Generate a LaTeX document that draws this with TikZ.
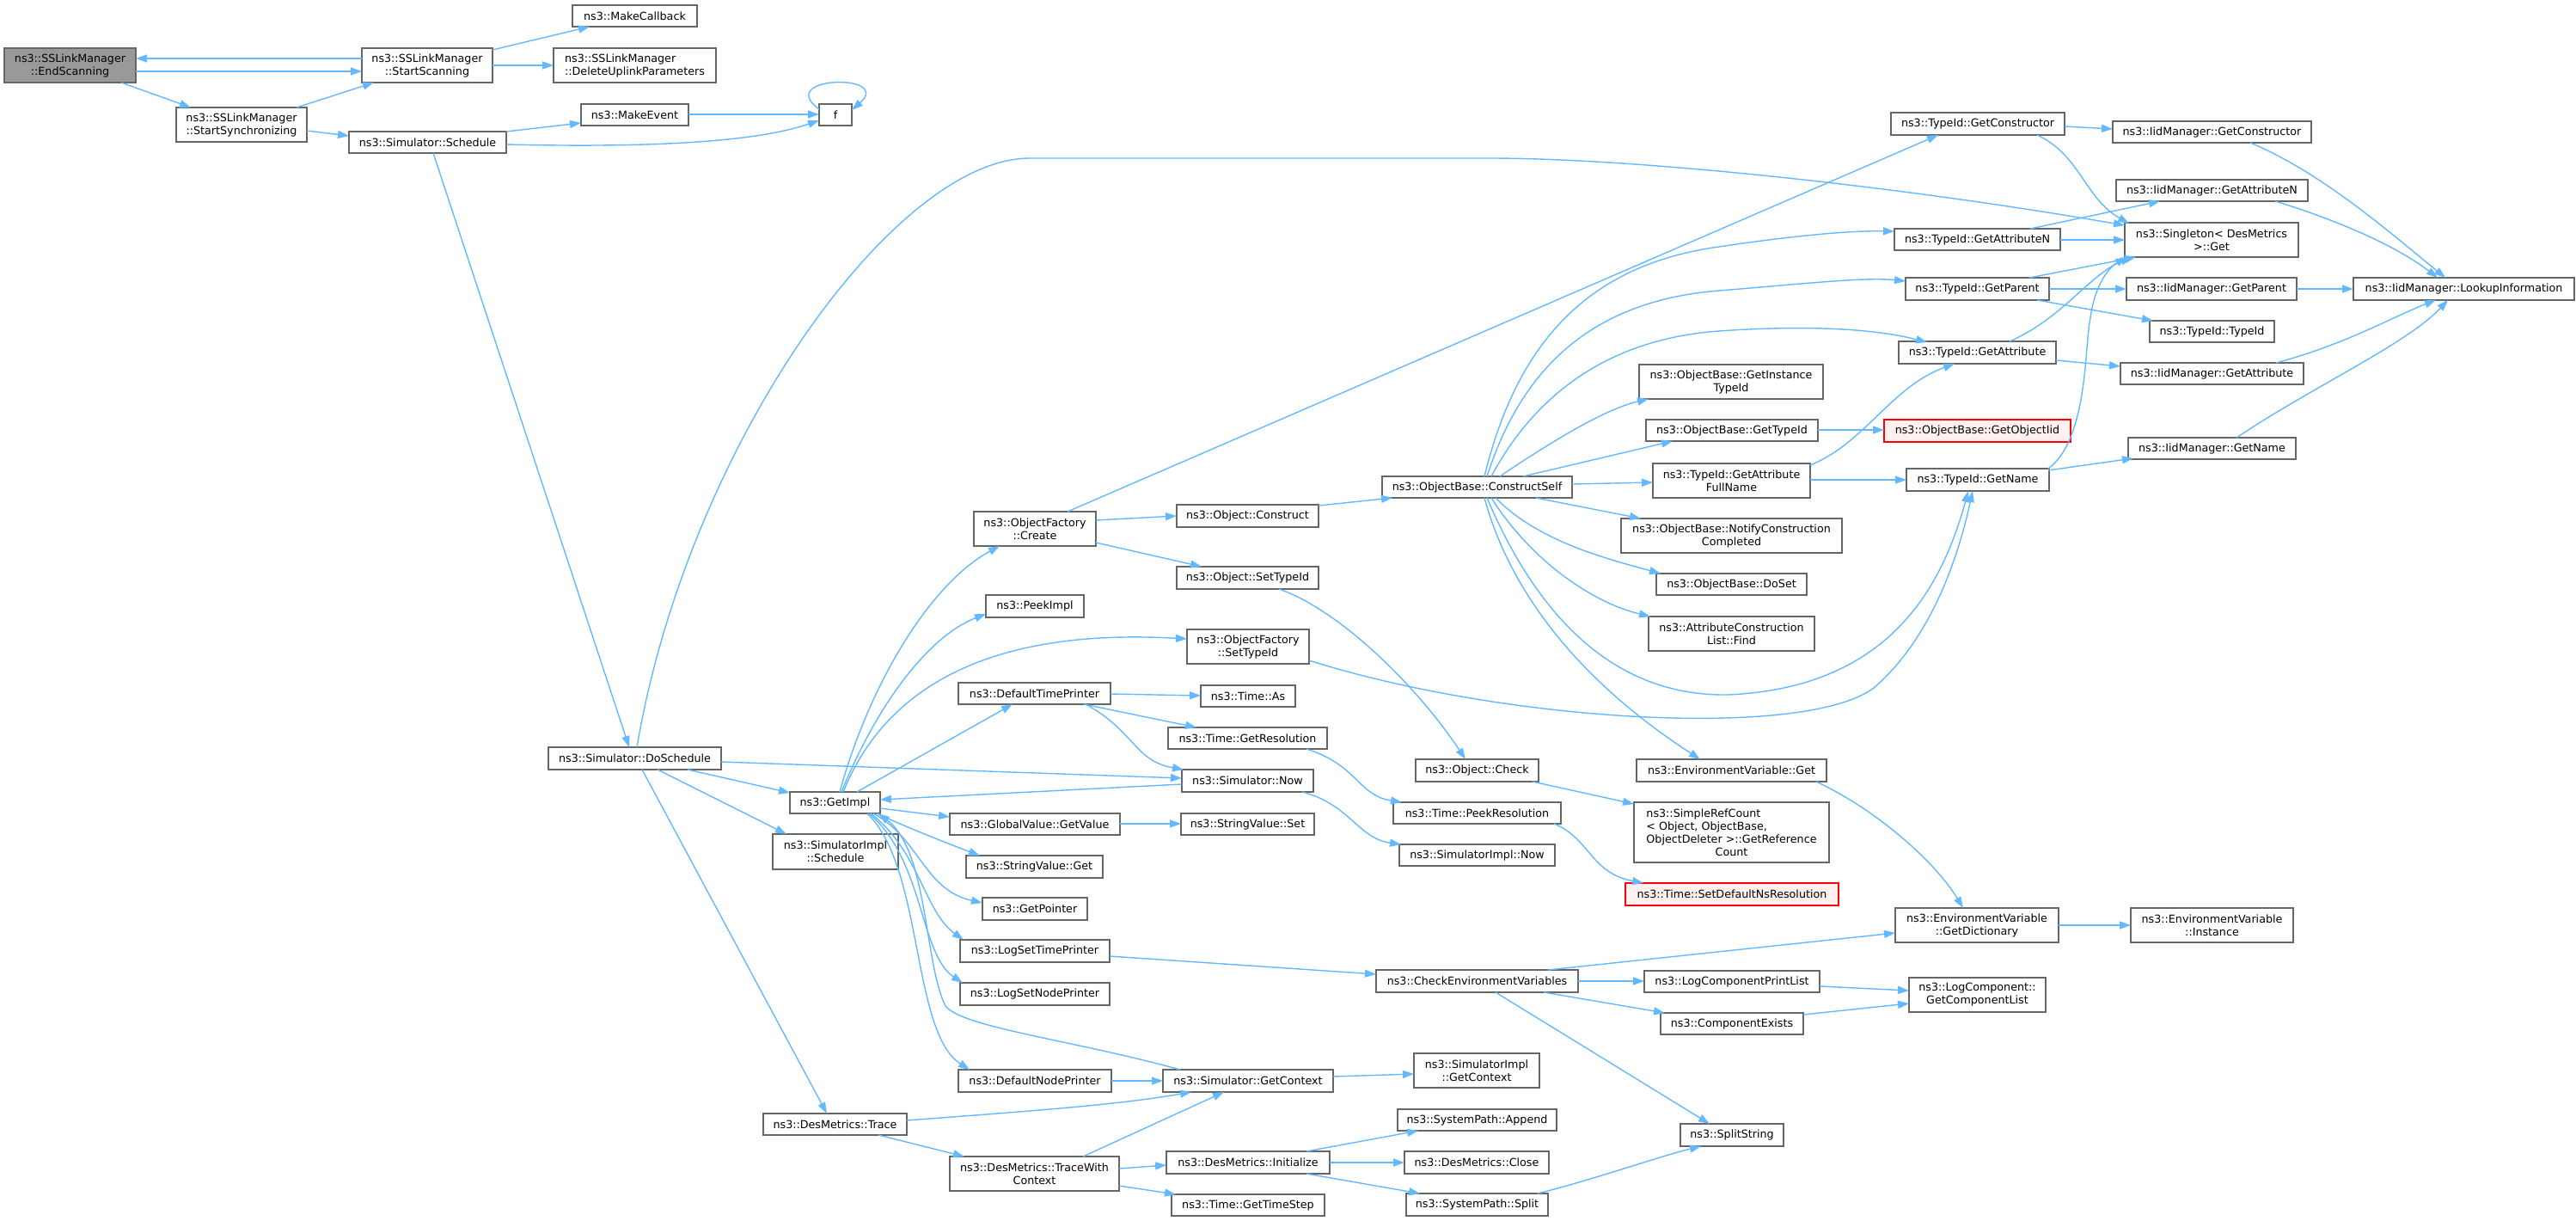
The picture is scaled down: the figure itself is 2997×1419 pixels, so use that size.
\documentclass[tikz,border=0pt]{standalone}
\usepackage{fontspec}
\usepackage{calc}
\setmainfont{DejaVu Sans}
\usetikzlibrary{arrows.meta,calc}
\definecolor{edgec}{HTML}{63B8FF}
\definecolor{bordc}{HTML}{666666}
\definecolor{hlfill}{HTML}{999999}
\definecolor{redfill}{HTML}{FFF0F0}
\definecolor{redbord}{HTML}{FF0000}
\tikzset{
  box/.style={draw=bordc, fill=white, line width=1.6pt, inner sep=0pt, outer sep=0pt,
    font=\fontsize{12.7}{15}\selectfont, text=black, align=center, anchor=north west},
  hl/.style={fill=hlfill},
  rednode/.style={draw=redbord, fill=redfill},
  e/.style={draw=edgec, line width=1.4pt, -{Triangle[length=13pt,width=9pt]}}
}
\newcommand\nd[7][]{\node[box,minimum width=#5pt,minimum height=#6pt,#1] (#2) at (#3,#4) {#7};}
\newcommand\rp[3]{($(#1.north west)+(#2,#3)$)}
\begin{document}
\begin{tikzpicture}[x=1pt,y=-1pt]
\useasboundingbox (0,0) rectangle (2997,1419);
% nodes
\nd[hl]{endscan}{5}{56}{153}{40}{ns3::SSLinkManager\\::EndScanning}
\nd{startscan}{421}{56}{152}{40}{ns3::SSLinkManager\\::StartScanning}
\nd{mkcb}{666}{6}{145}{25}{ns3::MakeCallback}
\nd[align=left]{delup}{644}{56}{189}{40}{ns3::SSLinkManager\\::DeleteUplinkParameters}
\nd{startsync}{205}{125}{152}{40}{ns3::SSLinkManager\\::StartSynchronizing}
\nd{sched}{406}{153}{183}{25}{ns3::Simulator::Schedule}
\nd{mkev}{676}{121}{125}{25}{ns3::MakeEvent}
\nd{f}{953}{121}{38}{25}{f}
\nd{dosched}{638}{869}{201}{26}{ns3::Simulator::DoSchedule}
\nd{getimpl}{919}{921}{105}{25}{ns3::GetImpl}
\nd{simimplsched}{899}{970}{146}{41}{ns3::SimulatorImpl\\::Schedule}
\nd{trace}{888}{1295}{167}{25}{ns3::DesMetrics::Trace}
\nd{ofcreate}{1133}{595}{142}{40}{ns3::ObjectFactory\\::Create}
\nd{peekimpl}{1147}{692}{114}{26}{ns3::PeekImpl}
\nd{ofsettid}{1381}{732}{142}{40}{ns3::ObjectFactory\\::SetTypeId}
\nd{dtp}{1115}{794}{177}{25}{ns3::DefaultTimePrinter}
\nd{timeas}{1397}{797}{110}{25}{ns3::Time::As}
\nd{getres}{1359}{846}{185}{25}{ns3::Time::GetResolution}
\nd{simnow}{1375}{895}{153}{26}{ns3::Simulator::Now}
\nd{gvget}{1105}{946}{198}{25}{ns3::GlobalValue::GetValue}
\nd{svset}{1374}{946}{155}{25}{ns3::StringValue::Set}
\nd{svget}{1124}{995}{159}{26}{ns3::StringValue::Get}
\nd{getptr}{1143}{1044}{122}{26}{ns3::GetPointer}
\nd{lstp}{1117}{1093}{174}{26}{ns3::LogSetTimePrinter}
\nd{lsnp}{1117}{1143}{174}{26}{ns3::LogSetNodePrinter}
\nd{dnp}{1115}{1244}{178}{26}{ns3::DefaultNodePrinter}
\nd{simgetctx}{1353}{1244}{198}{26}{ns3::Simulator::GetContext}
\nd{twc}{1105}{1345}{197}{40}{ns3::DesMetrics::TraceWith\\Context}
\nd{init}{1357}{1339}{190}{26}{ns3::DesMetrics::Initialize}
\nd{gettimestep}{1363}{1389}{178}{25}{ns3::Time::GetTimeStep}
\nd{objconstruct}{1369}{587}{165}{26}{ns3::Object::Construct}
\nd{objsettid}{1369}{659}{165}{26}{ns3::Object::SetTypeId}
\nd{constructself}{1608}{554}{221}{25}{ns3::ObjectBase::ConstructSelf}
\nd{objcheck}{1647}{883}{143}{26}{ns3::Object::Check}
\nd{peekres}{1621}{933}{195}{25}{ns3::Time::PeekResolution}
\nd{simimplnow}{1628}{982}{181}{25}{ns3::SimulatorImpl::Now}
\nd{simimplgetctx}{1645}{1225}{146}{40}{ns3::SimulatorImpl\\::GetContext}
\nd{checkenv}{1601}{1128}{235}{26}{ns3::CheckEnvironmentVariables}
\nd{append}{1626}{1290}{185}{25}{ns3::SystemPath::Append}
\nd{close}{1634}{1339}{168}{26}{ns3::DesMetrics::Close}
\nd{split}{1636}{1388}{165}{26}{ns3::SystemPath::Split}
\nd{getinst}{1907}{424}{214}{40}{ns3::ObjectBase::GetInstance\\TypeId}
\nd{obgettid}{1915}{488}{200}{25}{ns3::ObjectBase::GetTypeId}
\nd{fullname}{1923}{539}{183}{40}{ns3::TypeId::GetAttribute\\FullName}
\nd{notify}{1886}{603}{257}{40}{ns3::ObjectBase::NotifyConstruction\\Completed}
\nd{doset}{1927}{667}{175}{25}{ns3::ObjectBase::DoSet}
\nd{find}{1918}{717}{193}{40}{ns3::AttributeConstruction\\List::Find}
\nd{envget}{1904}{883}{221}{26}{ns3::EnvironmentVariable::Get}
\nd[align=left]{refcount}{1901}{933}{227}{70}{ns3::SimpleRefCount\\< Object, ObjectBase,\\ObjectDeleter >::GetReference\\\makebox[\widthof{ObjectDeleter >::GetReference}][c]{Count}}
\nd[rednode]{setdefns}{1891}{1027}{248}{26}{ns3::Time::SetDefaultNsResolution}
\nd{lcpl}{1913}{1129}{204}{25}{ns3::LogComponentPrintList}
\nd{compexists}{1932}{1178}{166}{25}{ns3::ComponentExists}
\nd{splitstr}{1955}{1307}{120}{26}{ns3::SplitString}
\nd{tidgetctor}{2200}{131}{202}{26}{ns3::TypeId::GetConstructor}
\nd{tidgetattrn}{2204}{266}{193}{25}{ns3::TypeId::GetAttributeN}
\nd{tidgetparent}{2217}{323}{167}{26}{ns3::TypeId::GetParent}
\nd{tidgetattr}{2209}{397}{183}{26}{ns3::TypeId::GetAttribute}
\nd[rednode]{getobjiid}{2192}{488}{217}{26}{ns3::ObjectBase::GetObjectIid}
\nd{tidgetname}{2218}{545}{166}{26}{ns3::TypeId::GetName}
\nd{getdict}{2205}{1056}{190}{40}{ns3::EnvironmentVariable\\::GetDictionary}
\nd{getcomplist}{2221}{1137}{159}{40}{ns3::LogComponent::\\GetComponentList}
\nd{iidgetctor}{2458}{141}{231}{25}{ns3::IidManager::GetConstructor}
\nd{iidgetattrn}{2462}{209}{223}{25}{ns3::IidManager::GetAttributeN}
\nd{singleton}{2472}{259}{202}{40}{ns3::Singleton< DesMetrics\\>::Get}
\nd{iidgetparent}{2474}{323}{198}{26}{ns3::IidManager::GetParent}
\nd{tidtid}{2501}{373}{145}{25}{ns3::TypeId::TypeId}
\nd{iidgetattr}{2467}{422}{213}{25}{ns3::IidManager::GetAttribute}
\nd{iidgetname}{2476}{509}{195}{25}{ns3::IidManager::GetName}
\nd{envinst}{2479}{1056}{189}{40}{ns3::EnvironmentVariable\\::Instance}
\nd{lookup}{2738}{323}{257}{26}{ns3::IidManager::LookupInformation}
% edges
\draw[e] \rp{endscan}{153}{27} -- \rp{startscan}{0}{27};
\draw[e] \rp{startscan}{0}{12} -- \rp{endscan}{153}{12};
\draw[e] \rp{endscan}{136}{40} -- \rp{startsync}{17}{0};
\draw[e] \rp{startsync}{140}{0} -- \rp{startscan}{14}{40};
\draw[e] \rp{startscan}{152}{2} -- \rp{mkcb}{20}{25};
\draw[e] \rp{startscan}{152}{20} -- \rp{delup}{0}{20};
\draw[e] \rp{startsync}{152}{27} -- \rp{sched}{0}{5};
\draw[e] \rp{sched}{183}{0} -- \rp{mkev}{0}{22};
\draw[e] \rp{sched}{183}{15} .. controls (760,172) and (880,165) .. \rp{f}{0}{19};
\draw[e] \rp{mkev}{125}{12} -- \rp{f}{0}{12};
\draw[e] \rp{f}{0}{6} .. controls (900,88) and (1040,85) .. \rp{f}{38}{7};
\draw[e] \rp{sched}{98}{25} -- \rp{dosched}{94}{0};
\draw[e] \rp{dosched}{103}{0} .. controls (800,520) and (1040,184) .. (1198,184) -- (1733,184) .. controls (1900,184) and (2200,215) .. \rp{singleton}{0}{3};
\draw[e] \rp{dosched}{162}{26} -- \rp{getimpl}{0}{1};
\draw[e] \rp{dosched}{201}{17} -- \rp{simnow}{0}{10};
\draw[e] \rp{dosched}{127}{26} -- \rp{simimplsched}{16}{0};
\draw[e] \rp{dosched}{109}{26} -- \rp{trace}{74}{0};
\draw[e] \rp{getimpl}{58}{0} .. controls (1010,800) and (1080,680) .. \rp{ofcreate}{30}{40};
\draw[e] \rp{getimpl}{60}{0} .. controls (1020,820) and (1080,740) .. \rp{peekimpl}{0}{22};
\draw[e] \rp{getimpl}{62}{0} .. controls (1030,800) and (1150,730) .. \rp{ofsettid}{0}{11};
\draw[e] \rp{getimpl}{78}{0} -- \rp{dtp}{63}{25};
\draw[e] \rp{simnow}{0}{17} -- \rp{getimpl}{105}{9};
\draw[e] \rp{getimpl}{105}{19} -- \rp{gvget}{0}{4};
\draw[e] \rp{getimpl}{101}{25} .. controls (1050,960) and (1100,980) .. \rp{svget}{16}{0};
\draw[e] \rp{getimpl}{97}{25} .. controls (1070,975) and (1075,1035) .. \rp{getptr}{0}{6};
\draw[e] \rp{getimpl}{94}{25} .. controls (1070,990) and (1075,1060) .. \rp{lstp}{4}{0};
\draw[e] \rp{getimpl}{92}{25} .. controls (1075,1000) and (1070,1110) .. \rp{lsnp}{3}{0};
\draw[e] \rp{getimpl}{90}{25} .. controls (1075,1010) and (1060,1200) .. \rp{dnp}{13}{0};
\draw[e] \rp{simgetctx}{20}{0} .. controls (1250,1210) and (1120,1195) .. (1100,1170) .. controls (1075,1120) and (1080,990) .. \rp{getimpl}{103}{25};
\draw[e] \rp{dtp}{177}{13} -- \rp{timeas}{0}{12};
\draw[e] \rp{dtp}{146}{25} -- \rp{getres}{33}{0};
\draw[e] \rp{dtp}{148}{25} .. controls (1320,850) and (1320,885) .. \rp{simnow}{2}{0};
\draw[e] \rp{getres}{161}{25} .. controls (1580,890) and (1580,925) .. \rp{peekres}{10}{0};
\draw[e] \rp{simnow}{140}{26} .. controls (1570,935) and (1580,975) .. \rp{simimplnow}{2}{0};
\draw[e] \rp{gvget}{198}{12} -- \rp{svset}{0}{12};
\draw[e] \rp{ofcreate}{142}{10} -- \rp{objconstruct}{0}{13};
\draw[e] \rp{ofcreate}{142}{36} -- \rp{objsettid}{29}{0};
\draw[e] \rp{ofcreate}{109}{0} -- \rp{tidgetctor}{55}{26};
\draw[e] \rp{objconstruct}{165}{1} -- \rp{constructself}{12}{25};
\draw[e] \rp{objsettid}{119}{26} .. controls (1560,710) and (1650,800) .. \rp{objcheck}{58}{0};
\draw[e] \rp{ofsettid}{142}{36} .. controls (1750,840) and (2100,860) .. (2180,800) .. controls (2250,740) and (2280,640) .. \rp{tidgetname}{77}{26};
\draw[e] \rp{objcheck}{136}{26} -- \rp{refcount}{0}{2};
\draw[e] \rp{peekres}{187}{25} .. controls (1850,975) and (1850,1015) .. \rp{setdefns}{21}{0};
\draw[e] \rp{constructself}{119}{0} .. controls (1760,420) and (1830,310) .. (2000,287) .. controls (2080,275) and (2150,268) .. \rp{tidgetattrn}{0}{3};
\draw[e] \rp{constructself}{122}{0} .. controls (1770,430) and (1850,350) .. (2000,338) .. controls (2100,330) and (2170,322) .. \rp{tidgetparent}{0}{4};
\draw[e] \rp{constructself}{127}{0} .. controls (1780,470) and (1860,395) .. (2000,385) .. controls (2100,378) and (2180,382) .. \rp{tidgetattr}{33}{1};
\draw[e] \rp{constructself}{137}{0} .. controls (1810,510) and (1870,475) .. \rp{getinst}{11}{40};
\draw[e] \rp{constructself}{164}{0} -- \rp{obgettid}{31}{25};
\draw[e] \rp{constructself}{221}{9} -- \rp{fullname}{0}{22};
\draw[e] \rp{constructself}{179}{25} -- \rp{notify}{23}{0};
\draw[e] \rp{constructself}{132}{25} .. controls (1790,630) and (1870,650) .. \rp{doset}{5}{0};
\draw[e] \rp{constructself}{127}{25} .. controls (1780,650) and (1850,700) .. \rp{find}{2}{0};
\draw[e] \rp{constructself}{122}{25} .. controls (1790,720) and (1880,810) .. (2010,808) .. controls (2200,800) and (2260,680) .. \rp{tidgetname}{72}{26};
\draw[e] \rp{constructself}{119}{25} .. controls (1760,700) and (1850,800) .. \rp{envget}{74}{0};
\draw[e] \rp{tidgetctor}{202}{16} -- \rp{iidgetctor}{0}{9};
\draw[e] \rp{tidgetctor}{170}{26} .. controls (2420,180) and (2425,230) .. \rp{singleton}{5}{1};
\draw[e] \rp{iidgetctor}{160}{25} .. controls (2700,200) and (2780,270) .. \rp{lookup}{107}{0};
\draw[e] \rp{tidgetattrn}{158}{0} -- \rp{iidgetattrn}{51}{25};
\draw[e] \rp{tidgetattrn}{193}{13} -- \rp{singleton}{0}{20};
\draw[e] \rp{iidgetattrn}{185}{25} .. controls (2700,250) and (2780,280) .. \rp{lookup}{98}{0};
\draw[e] \rp{tidgetparent}{144}{0} -- \rp{singleton}{13}{40};
\draw[e] \rp{tidgetparent}{167}{13} -- \rp{iidgetparent}{0}{13};
\draw[e] \rp{tidgetparent}{153}{26} -- \rp{tidtid}{4}{0};
\draw[e] \rp{iidgetparent}{198}{13} -- \rp{lookup}{0}{13};
\draw[e] \rp{tidgetattr}{129}{0} .. controls (2400,370) and (2430,320) .. \rp{singleton}{8}{40};
\draw[e] \rp{tidgetattr}{183}{22} -- \rp{iidgetattr}{0}{4};
\draw[e] \rp{iidgetattr}{181}{0} .. controls (2730,400) and (2780,370) .. \rp{lookup}{96}{26};
\draw[e] \rp{iidgetname}{126}{0} .. controls (2690,450) and (2800,400) .. \rp{lookup}{110}{26};
\draw[e] \rp{tidgetname}{165}{2} -- \rp{iidgetname}{6}{24};
\draw[e] \rp{tidgetname}{165}{0} .. controls (2430,510) and (2425,400) .. (2432,370) .. controls (2437,330) and (2455,310) .. \rp{singleton}{2}{40};
\draw[e] \rp{fullname}{183}{2} .. controls (2170,515) and (2200,450) .. \rp{tidgetattr}{65}{26};
\draw[e] \rp{fullname}{183}{19} -- \rp{tidgetname}{0}{13};
\draw[e] \rp{obgettid}{200}{12} -- \rp{getobjiid}{0}{12};
\draw[e] \rp{envget}{209}{26} .. controls (2180,940) and (2250,1000) .. \rp{getdict}{79}{0};
\draw[e] \rp{checkenv}{200}{0} -- \rp{getdict}{0}{29};
\draw[e] \rp{checkenv}{235}{13} -- \rp{lcpl}{0}{12};
\draw[e] \rp{checkenv}{195}{26} -- \rp{compexists}{5}{0};
\draw[e] \rp{checkenv}{139}{26} -- \rp{splitstr}{34}{0};
\draw[e] \rp{lcpl}{204}{18} -- \rp{getcomplist}{0}{15};
\draw[e] \rp{compexists}{166}{2} -- \rp{getcomplist}{0}{30};
\draw[e] \rp{getdict}{190}{20} -- \rp{envinst}{0}{20};
\draw[e] \rp{lstp}{174}{19} -- \rp{checkenv}{0}{5};
\draw[e] \rp{dnp}{178}{13} -- \rp{simgetctx}{0}{13};
\draw[e] \rp{simgetctx}{198}{8} -- \rp{simimplgetctx}{0}{24};
\draw[e] \rp{trace}{167}{8} .. controls (1200,1292) and (1300,1285) .. \rp{simgetctx}{33}{26};
\draw[e] \rp{trace}{134}{25} -- \rp{twc}{17}{0};
\draw[e] \rp{twc}{155}{0} -- \rp{simgetctx}{71}{26};
\draw[e] \rp{twc}{197}{14} -- \rp{init}{0}{16};
\draw[e] \rp{twc}{197}{34} -- \rp{gettimestep}{5}{0};
\draw[e] \rp{init}{163}{0} -- \rp{append}{24}{25};
\draw[e] \rp{init}{190}{13} -- \rp{close}{0}{13};
\draw[e] \rp{init}{163}{26} -- \rp{split}{16}{0};
\draw[e] \rp{split}{153}{0} .. controls (1860,1370) and (1930,1345) .. \rp{splitstr}{24}{26};
\end{tikzpicture}
\end{document}
